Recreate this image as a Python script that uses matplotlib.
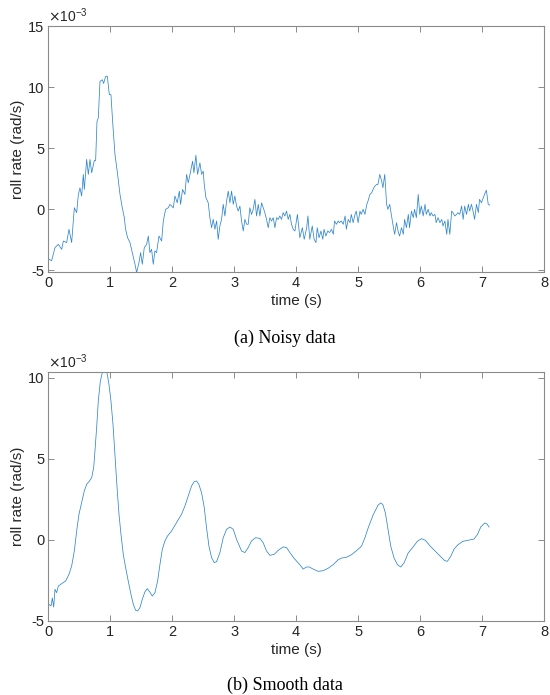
import matplotlib
matplotlib.use("Agg")
import matplotlib.pyplot as plt
import numpy as np

# ---- Noisy data (a): time (s) and roll rate (x1e-3 rad/s), rows of 10
noisy_t = [
    0.000, 0.011, 0.054, 0.081, 0.108, 0.162, 0.216, 0.243, 0.296, 0.334,
    0.377, 0.420, 0.458, 0.485, 0.511, 0.538, 0.565, 0.581, 0.619, 0.646,
    0.673, 0.700, 0.743, 0.764, 0.786, 0.807, 0.834, 0.872, 0.893, 0.925,
    0.952, 0.985, 1.011, 1.038, 1.076, 1.119, 1.157, 1.194, 1.227, 1.248,
    1.280, 1.318, 1.356, 1.399, 1.425, 1.463, 1.490, 1.517, 1.549, 1.587,
    1.614, 1.640, 1.667, 1.694, 1.721, 1.748, 1.786, 1.829, 1.856, 1.893,
    1.936, 1.963, 2.017, 2.044, 2.081, 2.114, 2.135, 2.167, 2.205, 2.232,
    2.259, 2.296, 2.329, 2.350, 2.382, 2.409, 2.447, 2.474, 2.500, 2.517,
    2.544, 2.581, 2.608, 2.635, 2.662, 2.689, 2.716, 2.742, 2.769, 2.796,
    2.823, 2.850, 2.877, 2.904, 2.931, 2.958, 2.985, 3.011, 3.038, 3.065,
    3.092, 3.119, 3.146, 3.173, 3.200, 3.226, 3.253, 3.280, 3.307, 3.334,
    3.361, 3.388, 3.415, 3.442, 3.468, 3.495, 3.522, 3.549, 3.576, 3.603,
    3.630, 3.657, 3.684, 3.710, 3.737, 3.764, 3.791, 3.818, 3.845, 3.872,
    3.899, 3.925, 3.952, 3.980, 4.020, 4.060, 4.100, 4.130, 4.170, 4.190,
    4.220, 4.260, 4.290, 4.320, 4.340, 4.370, 4.400, 4.430, 4.450, 4.480,
    4.510, 4.540, 4.570, 4.600, 4.620, 4.650, 4.680, 4.700, 4.730, 4.760,
    4.790, 4.810, 4.840, 4.870, 4.890, 4.920, 4.950, 4.970, 5.000, 5.030,
    5.050, 5.080, 5.110, 5.140, 5.160, 5.190, 5.220, 5.240, 5.270, 5.300,
    5.320, 5.350, 5.380, 5.400, 5.430, 5.460, 5.480, 5.510, 5.540, 5.570,
    5.590, 5.620, 5.650, 5.670, 5.700, 5.730, 5.750, 5.780, 5.810, 5.830,
    5.860, 5.890, 5.910, 5.940, 5.970, 5.995, 6.020, 6.050, 6.080, 6.100,
    6.130, 6.160, 6.180, 6.210, 6.240, 6.260, 6.290, 6.320, 6.350, 6.370,
    6.400, 6.430, 6.450, 6.480, 6.510, 6.530, 6.560, 6.590, 6.610, 6.640,
    6.670, 6.695, 6.720, 6.750, 6.780, 6.800, 6.830, 6.860, 6.880, 6.910,
    6.940, 6.960, 6.990, 7.020, 7.040, 7.070, 7.100, 7.125]
noisy_y = [
    -4.00, -4.08, -4.20, -3.67, -3.13, -2.86, -3.27, -2.59, -2.72, -1.63,
    -2.72, 0.13, -0.27, 1.22, 1.76, 1.09, 2.86, 1.63, 4.08, 2.86,
    4.08, 2.99, 4.00, 4.00, 7.20, 7.48, 10.47, 10.60, 10.30, 10.88,
    10.90, 9.39, 9.39, 7.20, 4.49, 2.86, 1.22, 0.13, -0.69, -1.63,
    -2.32, -2.72, -3.54, -4.49, -5.17, -4.36, -3.54, -4.49, -3.13, -2.86,
    -2.18, -3.54, -3.27, -4.49, -3.40, -3.54, -2.18, -2.59, -0.95, 0.00,
    0.13, 0.41, 0.13, 1.09, 0.54, 1.49, 0.41, 1.63, 1.22, 2.86,
    2.17, 3.13, 3.94, 2.99, 4.43, 2.86, 3.80, 2.86, 3.13, 2.04,
    0.95, 0.54, -0.69, -1.50, -0.82, -1.63, -0.95, -2.45, -1.36, -0.82,
    0.41, -0.54, 0.68, 1.49, 0.54, 1.49, 0.41, 1.09, 0.27, -0.14,
    0.27, -0.95, -1.77, -0.82, -1.22, -1.22, 0.13, -0.41, 0.00, 0.82,
    -0.54, 0.41, -0.54, 0.54, 0.13, -0.27, -0.82, -1.50, -0.68, -0.95,
    -0.68, -1.50, -0.68, -0.82, -0.54, -0.82, -0.27, -0.54, -0.14, -0.82,
    -0.41, -1.22, -1.63, -1.77, -0.41, -2.32, -1.50, -2.45, -1.50, -0.54,
    -2.45, -1.36, -2.45, -2.72, -1.50, -2.32, -1.77, -2.45, -1.63, -2.18,
    -1.77, -1.90, -1.63, -2.04, -0.95, -1.22, -0.95, -1.09, -0.95, -1.22,
    -0.54, -1.63, -0.82, -1.09, -0.41, -1.09, -0.41, -0.14, -1.09, -0.14,
    -0.41, 0.00, -0.41, 0.41, 0.68, 1.22, 1.36, 1.63, 1.90, 2.04,
    2.04, 2.86, 2.32, 1.77, 2.86, 0.41, 0.00, 0.41, -0.54, -1.50,
    -2.04, -1.09, -1.90, -2.18, -1.50, -2.04, -0.82, -1.50, -0.41, -1.50,
    -0.14, -0.68, 0.00, -0.68, 1.22, -0.41, 0.27, -0.54, 0.41, -0.41,
    0.00, -0.54, -0.27, -0.54, -0.41, -1.09, -0.68, -1.09, -0.82, -1.36,
    -0.95, -2.04, -0.82, -2.04, -0.14, -0.27, -0.54, -0.41, -0.27, -0.41,
    0.27, -0.82, 0.27, -0.41, 0.41, -0.14, 0.41, -0.27, -0.82, 0.41,
    -0.27, 0.82, 0.54, 0.95, 1.22, 1.57, 0.41, 0.35]

# ---- Smooth data (b), rows of 10
smooth_t = [
    0.000, 0.011, 0.044, 0.065, 0.087, 0.108, 0.135, 0.162, 0.216, 0.280,
    0.334, 0.377, 0.420, 0.458, 0.495, 0.538, 0.581, 0.619, 0.657, 0.700,
    0.732, 0.753, 0.780, 0.807, 0.840, 0.872, 0.915, 0.947, 0.979, 1.011,
    1.044, 1.076, 1.108, 1.141, 1.173, 1.210, 1.248, 1.290, 1.334, 1.372,
    1.409, 1.441, 1.479, 1.517, 1.560, 1.597, 1.635, 1.678, 1.721, 1.764,
    1.802, 1.840, 1.882, 1.925, 1.990, 2.070, 2.150, 2.205, 2.259, 2.312,
    2.355, 2.393, 2.430, 2.474, 2.517, 2.554, 2.592, 2.635, 2.678, 2.716,
    2.770, 2.823, 2.877, 2.931, 2.985, 3.038, 3.119, 3.173, 3.226, 3.280,
    3.345, 3.415, 3.468, 3.522, 3.576, 3.646, 3.710, 3.791, 3.845, 3.899,
    3.968, 4.060, 4.113, 4.167, 4.210, 4.275, 4.355, 4.436, 4.516, 4.597,
    4.678, 4.732, 4.812, 4.893, 4.974, 5.054, 5.108, 5.162, 5.243, 5.323,
    5.366, 5.400, 5.440, 5.484, 5.527, 5.580, 5.635, 5.688, 5.742, 5.807,
    5.887, 5.957, 6.022, 6.086, 6.156, 6.237, 6.317, 6.398, 6.441, 6.495,
    6.549, 6.613, 6.694, 6.774, 6.871, 6.925, 6.979, 7.043, 7.080, 7.113]
smooth_y = [
    -4.00, -4.00, -4.10, -3.60, -4.17, -3.07, -3.28, -2.87, -2.72, -2.56,
    -2.14, -1.63, -0.70, 0.54, 1.57, 2.29, 3.01, 3.42, 3.59, 3.83,
    4.45, 5.48, 6.93, 8.58, 9.81, 10.33, 10.53, 10.33, 9.61, 8.58,
    7.13, 5.17, 3.32, 1.57, 0.33, -0.91, -1.73, -2.56, -3.38, -4.00,
    -4.37, -4.41, -4.21, -3.69, -3.22, -3.03, -3.22, -3.49, -3.28, -2.56,
    -1.53, -0.60, -0.08, 0.23, 0.54, 1.05, 1.57, 2.08, 2.70, 3.32,
    3.59, 3.63, 3.42, 2.90, 1.98, 0.74, -0.39, -1.11, -1.42, -1.36,
    -0.80, 0.12, 0.64, 0.78, 0.64, 0.02, -0.70, -0.80, -0.49, -0.08,
    0.12, 0.08, -0.19, -0.70, -0.97, -0.91, -0.66, -0.45, -0.49, -0.80,
    -1.16, -1.55, -1.82, -1.69, -1.69, -1.82, -1.96, -1.92, -1.77, -1.55,
    -1.24, -1.14, -1.09, -0.93, -0.68, -0.41, 0.10, 0.72, 1.54, 2.14,
    2.27, 2.16, 1.65, 0.62, -0.41, -1.13, -1.55, -1.69, -1.44, -0.83,
    -0.45, -0.10, 0.06, -0.04, -0.37, -0.68, -0.99, -1.30, -1.34, -1.03,
    -0.58, -0.31, -0.10, -0.04, 0.04, 0.31, 0.78, 1.03, 0.97, 0.78]

x_ticks = [0, 1, 2, 3, 4, 5, 6, 7, 8]
yticks_a = [-5, 0, 5, 10, 15]
yticks_b = [-5, 0, 5, 10]

line_color = '#2f86cc'
axis_color = '#8a8a8a'
text_color = '#262626'
W, H = 550, 695
fig = plt.figure(figsize=(W / 100, H / 100), dpi=100)

def make_axes(top_px, bot_px):
    l = 48.3 / W
    r = 544 / W
    return fig.add_axes([l, 1 - bot_px / H, r - l, (bot_px - top_px) / H])

def style(ax, yticks, ylim):
    ax.set_xlim(0, 8)
    ax.set_ylim(ylim[0] * 1e-3, ylim[1] * 1e-3)
    ax.set_xticks(x_ticks)
    ax.set_xticklabels([str(v) for v in x_ticks])
    ax.set_yticks([v * 1e-3 for v in yticks])
    ax.set_yticklabels([str(v) for v in yticks])
    for s in ax.spines.values():
        s.set_color(axis_color)
        s.set_linewidth(0.8)
    ax.tick_params(direction='in', length=4, width=0.7, color=axis_color,
                   labelcolor=text_color, labelsize=10.5, top=True, right=True, pad=3)
    for lab in ax.get_xticklabels() + ax.get_yticklabels():
        lab.set_family('Liberation Sans')
    ax.set_xlabel('time (s)', fontsize=11, family='Liberation Sans', color=text_color, labelpad=3)
    ax.set_ylabel('roll rate (rad/s)', fontsize=11, family='Liberation Sans', color=text_color, labelpad=2)
    ax.text(0.0, 1.005, r'$\times\mathregular{10^{-3}}$', transform=ax.transAxes,
            ha='left', va='bottom', fontsize=10, family='Liberation Sans', color=text_color)

ax1 = make_axes(26, 271.7)
ax1.plot(noisy_t, np.array(noisy_y) * 1e-3, color=line_color, lw=0.55)
style(ax1, yticks_a, (-5.1, 15))

ax2 = make_axes(372.3, 620.5)
ax2.plot(smooth_t, np.array(smooth_y) * 1e-3, color=line_color, lw=0.55)
style(ax2, yticks_b, (-5, 10.35))

fig.text(285 / W, 1 - 338 / H, '(a) Noisy data', ha='center', va='center',
         fontsize=13, family='Liberation Serif', color='black')
fig.text(285 / W, 1 - 685 / H, '(b) Smooth data', ha='center', va='center',
         fontsize=13, family='Liberation Serif', color='black')

fig.savefig('out.png', dpi=100)
